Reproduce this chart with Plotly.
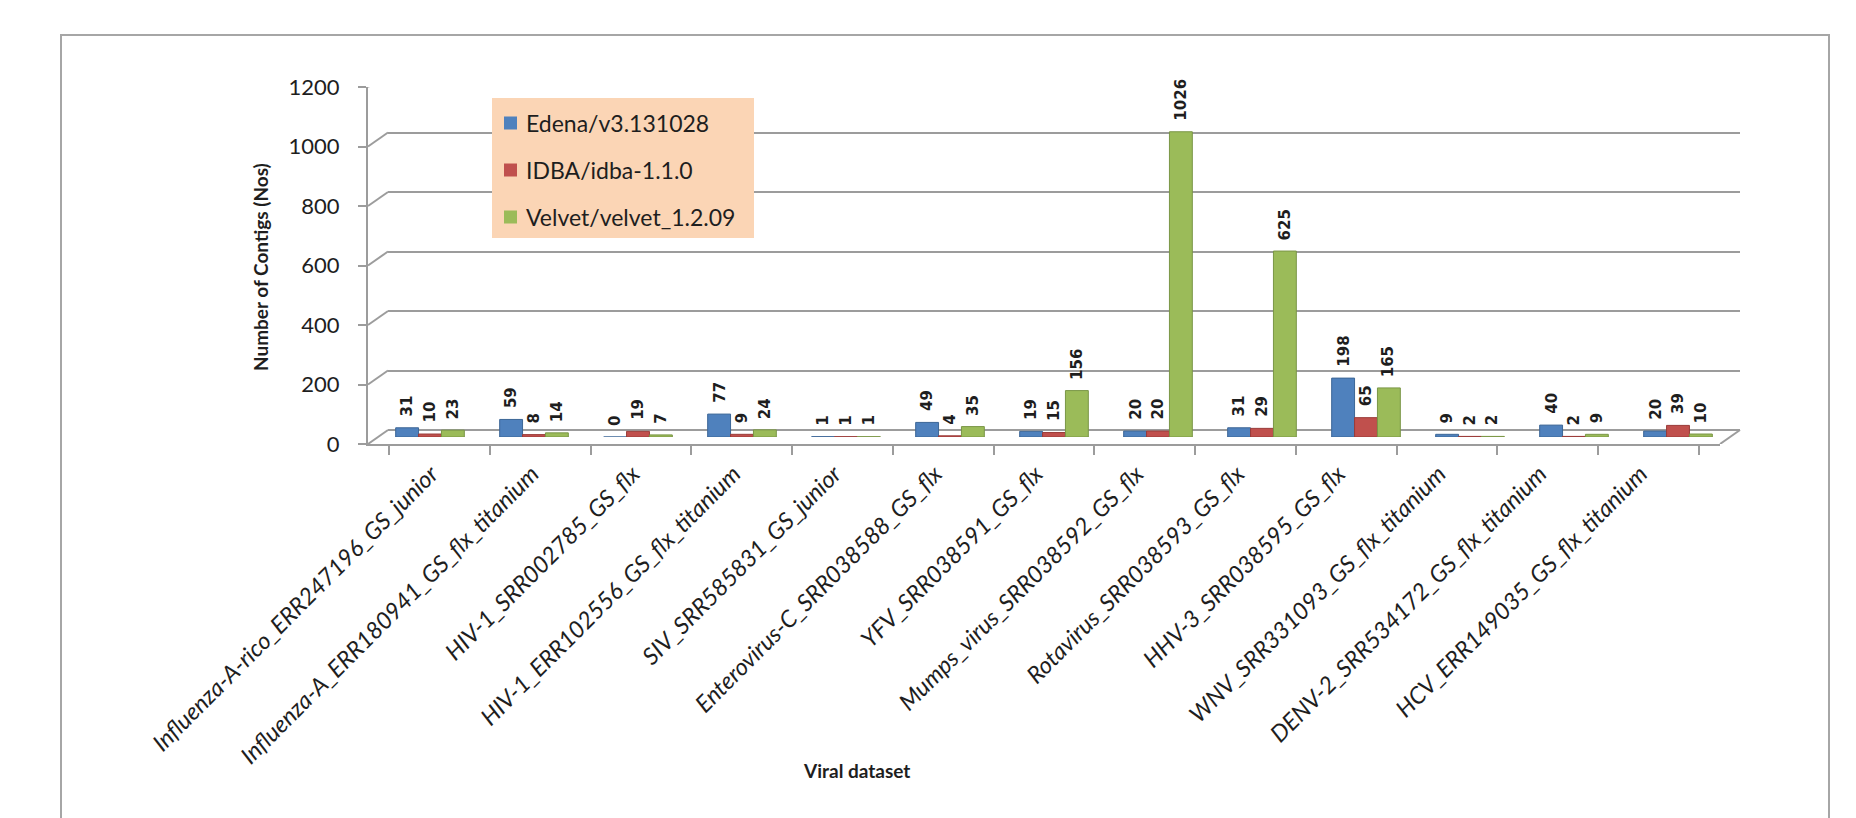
import plotly.graph_objects as go

# ---------------- data ----------------
categories = [
    "Influenza-A-rico_ERR247196_GS_junior",
    "Influenza-A_ERR180941_GS_flx_titanium",
    "HIV-1_SRR002785_GS_flx",
    "HIV-1_ERR102556_GS_flx_titanium",
    "SIV_SRR585831_GS_junior",
    "Enterovirus-C_SRR038588_GS_flx",
    "YFV_SRR038591_GS_flx",
    "Mumps_virus_SRR038592_GS_flx",
    "Rotavirus_SRR038593_GS_flx",
    "HHV-3_SRR038595_GS_flx",
    "WNV_SRR331093_GS_flx_titanium",
    "DENV-2_SRR534172_GS_flx_titanium",
    "HCV_ERR149035_GS_flx_titanium",
]
edena = [31, 59, 0, 77, 1, 49, 19, 20, 31, 198, 9, 40, 20]
idba = [10, 8, 19, 9, 1, 4, 15, 20, 29, 65, 2, 2, 39]
velvet = [23, 14, 7, 24, 1, 35, 156, 1026, 625, 165, 2, 9, 10]
series_names = ["Edena/v3.131028", "IDBA/idba-1.1.0", "Velvet/velvet_1.2.09"]
y_ticks = [0, 200, 400, 600, 800, 1000, 1200]

# ---------------- geometry (pixels) ----------------
W, H = 1856, 818
L, R, T, B = 368, 1740, 73, 444          # paper box
PW, PH = R - L, B - T
DX, DY = 20, 14                          # 3-D depth offset
BARGAP = 0.34

def px(x):
    return (x - L) / PW

def py(y):
    return (B - y) / PH

colors = ["#4F81BD", "#C0504D", "#9BBB59"]
edges = ["#3C6696", "#9A3B38", "#7A9646"]
grid_col = "#9c9c9c"
txt_col = "#1e1e1e"

fig = go.Figure()

# back wall (gridlines) subplot
fig.add_trace(go.Scatter(x=categories, y=[0] * len(categories), mode="markers",
                         marker=dict(opacity=0), hoverinfo="skip", showlegend=False,
                         xaxis="x", yaxis="y"))

# bars at mid depth
all_series = [edena, idba, velvet]
for name, vals, c, e in zip(series_names, all_series, colors, edges):
    fig.add_trace(go.Bar(
        x=categories, y=vals, name=name, xaxis="x2", yaxis="y2",
        marker=dict(color=c, line=dict(color=e, width=1)),
        showlegend=False,
    ))

# front axes
fig.add_trace(go.Scatter(x=categories, y=[0] * len(categories), mode="markers",
                         marker=dict(opacity=0), hoverinfo="skip", showlegend=False,
                         xaxis="x3", yaxis="y3"))

front_w = (PW - DX) / PW
front_h = (PH - DY) / PH

fig.update_layout(
    width=W, height=H,
    margin=dict(l=L, r=W - R, t=T, b=H - B, pad=0),
    paper_bgcolor="white", plot_bgcolor="rgba(0,0,0,0)",
    barmode="group", bargap=BARGAP, bargroupgap=0,
    font=dict(family="Lato", color=txt_col),
    # back wall
    xaxis=dict(domain=[DX / PW, 1], anchor="y", type="category",
               categoryorder="array", categoryarray=categories,
               showgrid=False, showticklabels=False, showline=False, zeroline=False, ticks=""),
    yaxis=dict(domain=[DY / PH, 1], anchor="x", range=[0, 1200],
               tickvals=y_ticks, showgrid=True, gridcolor=grid_col, gridwidth=2,
               zeroline=True, zerolinecolor=grid_col, zerolinewidth=2,
               showticklabels=False, showline=False, ticks=""),
    # bars
    xaxis2=dict(domain=[DX / 2 / PW, 1 - DX / 2 / PW], anchor="y2", type="category",
                categoryorder="array", categoryarray=categories,
                showgrid=False, showticklabels=False, showline=False, zeroline=False, ticks=""),
    yaxis2=dict(domain=[DY / 2 / PH, 1 - DY / 2 / PH], anchor="x2", range=[0, 1200],
                showgrid=False, showticklabels=False, showline=False, zeroline=False, ticks=""),
    # front axes
    xaxis3=dict(domain=[0, front_w], anchor="y3", type="category",
                categoryorder="array", categoryarray=categories,
                showgrid=False, zeroline=False, showline=True, linecolor=grid_col, linewidth=2,
                ticks="outside", tickson="boundaries", ticklen=9, tickwidth=2, tickcolor=grid_col,
                tickangle=-45, ticklabelstandoff=5, ticklabelshift=-8,
                tickfont=dict(family="Lato", size=23.5, style="italic", color=txt_col)),
    yaxis3=dict(domain=[0, front_h], anchor="x3", range=[0, 1200],
                tickvals=y_ticks, showgrid=False, zeroline=False,
                showline=True, linecolor=grid_col, linewidth=2,
                ticks="outside", ticklen=8, tickwidth=2, tickcolor=grid_col,
                ticklabelstandoff=14,
                tickfont=dict(family="Lato", size=22, color=txt_col)),
)

shapes = []
# left wall diagonals
for v in y_ticks:
    shapes.append(dict(type="line", xref="paper", yref="y3",
                       xsizemode="pixel", xanchor=0, x0=0, x1=DX,
                       ysizemode="pixel", yanchor=v, y0=0, y1=DY,
                       line=dict(color=grid_col, width=2), layer="below"))
# right floor edge
shapes.append(dict(type="line", xref="paper", yref="y3",
                   xsizemode="pixel", xanchor=front_w, x0=0, x1=DX,
                   ysizemode="pixel", yanchor=0, y0=0, y1=DY,
                   line=dict(color=grid_col, width=2), layer="below"))
# outer chart frame
shapes.append(dict(type="rect", xref="paper", yref="paper",
                   x0=px(61), x1=px(1829), y0=py(35), y1=py(840),
                   line=dict(color="#a6a6a6", width=2), fillcolor="rgba(0,0,0,0)", layer="below"))
# legend box
shapes.append(dict(type="rect", xref="paper", yref="paper",
                   x0=px(492), x1=px(754), y0=py(98), y1=py(238),
                   line=dict(width=0), fillcolor="#FBD5B5", layer="above"))
annotations = []
row_y = [123, 170, 217]
for name, c, ry in zip(series_names, colors, row_y):
    shapes.append(dict(type="rect", xref="paper", yref="paper",
                       x0=px(504), x1=px(517), y0=py(ry - 6.5), y1=py(ry + 6.5),
                       line=dict(width=0), fillcolor=c, layer="above"))
    annotations.append(dict(xref="paper", yref="paper", x=px(524), y=py(ry),
                            xanchor="left", yanchor="middle", showarrow=False,
                            text=name, font=dict(family="Lato", size=23, color=txt_col)))

# data labels (vertical) above each bar
cat_px = (PW - DX) / len(categories)
bar_px = cat_px * (1 - BARGAP) / len(all_series)
for i, vals in enumerate(all_series):
    xshift = (i - (len(all_series) - 1) / 2) * bar_px
    for cat, v in zip(categories, vals):
        annotations.append(dict(xref="x2", yref="y2", x=cat, y=v,
                                xanchor="center", yanchor="bottom", showarrow=False,
                                textangle=-90, xshift=xshift, yshift=9,
                                text=str(v),
                                font=dict(family="DejaVu Sans", size=15, color=txt_col,
                                          weight="bold")))

# axis titles
annotations.append(dict(xref="paper", yref="paper", x=px(260), y=py(267),
                        xanchor="center", yanchor="middle", showarrow=False, textangle=-90,
                        text="<b>Number of Contigs (Nos)</b>",
                        font=dict(family="Lato", size=19, color=txt_col)))
annotations.append(dict(xref="paper", yref="paper", x=px(856), y=py(770),
                        xanchor="center", yanchor="middle", showarrow=False,
                        text="<b>Viral dataset</b>",
                        font=dict(family="Lato", size=19, color=txt_col)))

fig.update_layout(shapes=shapes, annotations=annotations)

fig.write_html("out.html")
